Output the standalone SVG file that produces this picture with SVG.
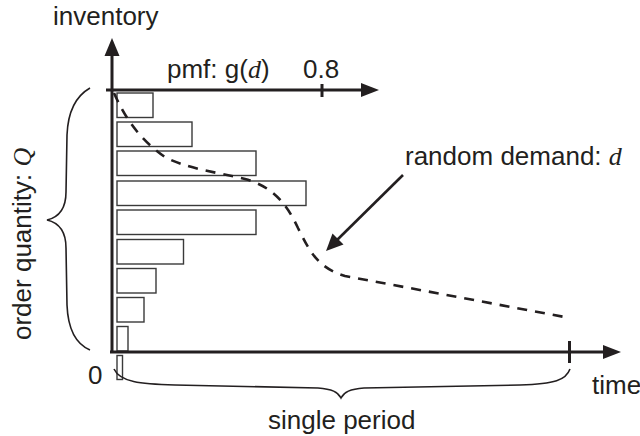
<svg xmlns="http://www.w3.org/2000/svg" width="640" height="436" viewBox="0 0 640 436">
<style>
  .t { font-family: "Liberation Sans", Arial, sans-serif; font-size: 26px; fill: #231f20; }
  .m { font-family: "Liberation Serif", "Times New Roman", serif; font-style: italic; }
  .ax { stroke: #231f20; stroke-width: 3; fill: none; }
  .bar { fill: #ffffff; stroke: #3a3a3a; stroke-width: 1.4; }
  .brace { fill: none; stroke: #231f20; stroke-width: 1.6; }
  .dash { fill: none; stroke: #231f20; stroke-width: 2.6; stroke-dasharray: 10 8; }
  .head { fill: #231f20; }
</style>
<rect width="640" height="436" fill="#ffffff"/>

<g id="bars">
  <rect class="bar" x="117" y="93" width="36" height="24.5"/>
  <rect class="bar" x="117" y="122" width="75" height="24.5"/>
  <rect class="bar" x="117" y="151" width="139" height="24.5"/>
  <rect class="bar" x="117" y="181" width="189" height="24.5"/>
  <rect class="bar" x="117" y="210" width="139" height="24.5"/>
  <rect class="bar" x="117" y="239.5" width="66.5" height="24.5"/>
  <rect class="bar" x="117" y="268.5" width="39" height="24.5"/>
  <rect class="bar" x="117" y="297.5" width="27" height="24.5"/>
  <rect class="bar" x="117" y="326.5" width="11" height="24.5"/>
  <rect class="bar" x="117" y="355.5" width="5.5" height="24"/>
</g>

<g id="axes">
  <line class="ax" x1="112" y1="352" x2="112" y2="52"/>
  <polygon class="head" points="112,38 104.5,56 119.5,56"/>
  <line class="ax" x1="106" y1="90" x2="364" y2="90"/>
  <polygon class="head" points="379,90 361,83 361,97"/>
  <line class="ax" x1="322" y1="84" x2="322" y2="97"/>
  <line class="ax" x1="110" y1="352" x2="605" y2="352"/>
  <polygon class="head" points="621,352 603,345 603,359"/>
  <line class="ax" x1="569.5" y1="341" x2="569.5" y2="363"/>
</g>

<g id="connectors">
  <path class="dash" d="M114,93 C125,118 140,140 165,157 C185,168 215,172 245,179 C270,186 285,200 298,228 C310,252 318,268 345,276 L570,318"/>
  <line x1="403" y1="175" x2="334" y2="243" stroke="#231f20" stroke-width="2.6"/>
  <polygon class="head" points="326,251 332.5,233.5 343.5,244.5"/>
</g>

<g id="braces">
  <path class="brace" d="M90,88 C76,96 68,110 67,135 L66,192 C66,208 60,217 47,220 C60,223 66,232 66,248 L67,305 C68,330 76,344 90,350"/>
  <path class="brace" d="M114,369 C120,382 140,384 175,385 L318,388 C332,389 338,392 341,398 C344,392 350,389 364,388 L520,385 C555,384 566,380 570,369"/>
</g>

<g id="labels">
  <text class="t" x="53" y="25">inventory</text>
  <text class="t" x="167" y="78">pmf: g(<tspan class="m">d</tspan>)</text>
  <text class="t" x="303" y="78">0.8</text>
  <text class="t" x="405" y="165">random demand: <tspan class="m">d</tspan></text>
  <text class="t" transform="translate(31,340) rotate(-90)">order quantity: <tspan class="m">Q</tspan></text>
  <text class="t" x="88" y="384">0</text>
  <text class="t" x="592" y="394">time</text>
  <text class="t" x="268" y="429">single period</text>
</g>
</svg>
